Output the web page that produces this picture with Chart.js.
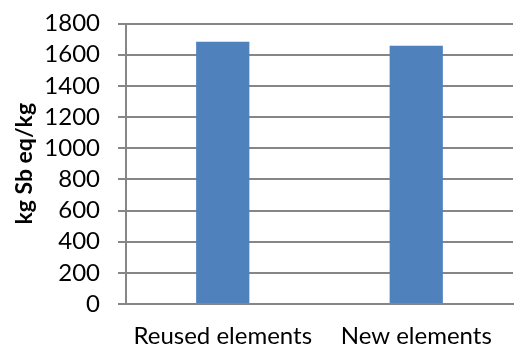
<!DOCTYPE html>
<html>
<head>
<meta charset="utf-8">
<script src="https://cdn.jsdelivr.net/npm/chart.js@4"></script>
<style>
html,body{margin:0;padding:0;background:#fff;}
#wrap{width:517px;height:352px;position:relative;}
</style>
</head>
<body>
<div id="wrap"><canvas id="c" width="517" height="352"></canvas></div>
<script>
const categories = ["Reused elements", "New elements"];
const values = [1683, 1658];
const yTicks = [0, 200, 400, 600, 800, 1000, 1200, 1400, 1600, 1800];
const yTitle = "kg Sb eq/kg";

const FONT = "Lato, Calibri, Carlito, sans-serif";
const GRID = '#868686';

function drawGridRects(chart) {
  const ctx = chart.ctx;
  const x = chart.scales.x, y = chart.scales.y;
  const left = x.left, right = x.right;
  ctx.save();
  ctx.fillStyle = GRID;
  yTicks.forEach(v => {
    const py = Math.round(y.getPixelForValue(v));
    ctx.fillRect(left - 8, py - 1, (right - left) + 8, 2);
  });
  ctx.restore();
}

const gridPlugin = {
  id: 'hgrid',
  beforeDatasetsDraw(chart) { drawGridRects(chart); }
};

const ctx = document.getElementById('c').getContext('2d');
new Chart(ctx, {
  type: 'bar',
  data: {
    labels: categories,
    datasets: [{
      data: values,
      backgroundColor: '#4F81BD',
      borderWidth: 0,
      categoryPercentage: 1.0,
      barPercentage: 0.275
    }]
  },
  options: {
    responsive: false,
    animation: false,
    devicePixelRatio: 1,
    layout: { padding: { left: 0, right: 4, top: 0, bottom: 0 } },
    plugins: { legend: { display: false }, tooltip: { enabled: false } },
    scales: {
      x: {
        grid: { display: false, drawTicks: false },
        border: { display: true, color: GRID, width: 2 },
        ticks: { color: '#000', font: { family: FONT, size: 24 }, padding: 18, maxRotation: 0, autoSkip: false },
        afterFit: (s) => { s.height = 48; }
      },
      y: {
        min: yTicks[0], max: yTicks[yTicks.length - 1],
        grid: { display: true, drawOnChartArea: true, color: GRID, lineWidth: 2, tickLength: 8, drawTicks: true },
        border: { display: true, color: GRID, width: 2 },
        ticks: { stepSize: yTicks[1] - yTicks[0], color: '#000', font: { family: FONT, size: 24 }, padding: 18, autoSkip: false, callback: (v) => String(v) },
        title: { display: true, text: yTitle, color: '#000', font: { family: FONT, size: 23, weight: 'bold' }, padding: { top: 11, bottom: 0 } },
        afterFit: (s) => { s.width = 126; s.paddingTop = 23.5; s.paddingBottom = 0; }
      }
    }
  },
  plugins: [gridPlugin]
});
</script>
</body>
</html>
